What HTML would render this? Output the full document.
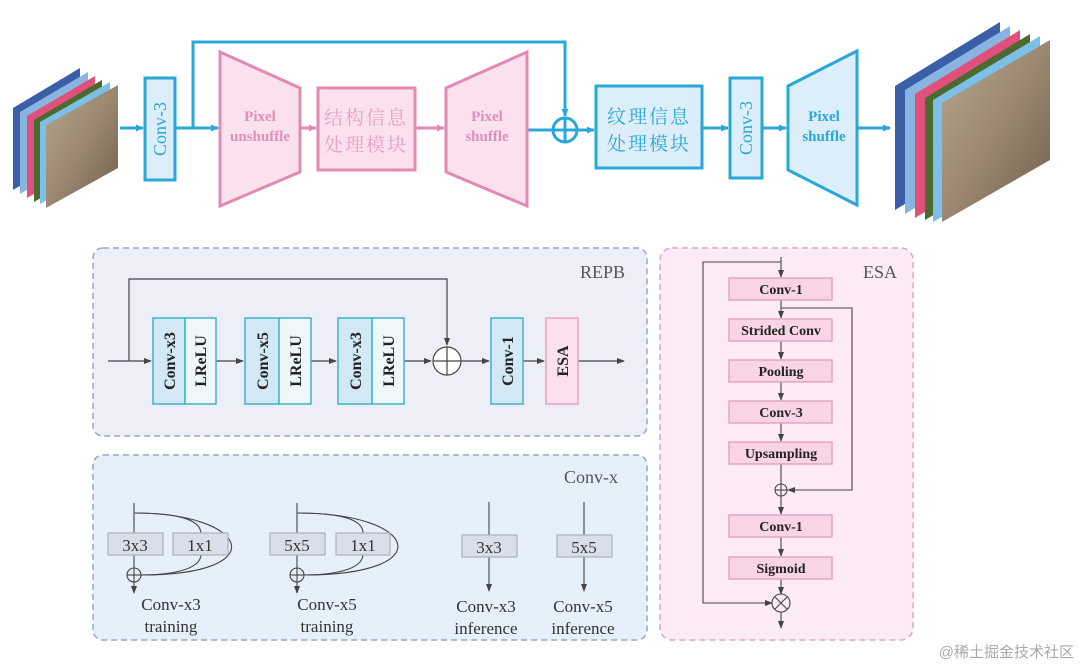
<!DOCTYPE html>
<html><head><meta charset="utf-8"><style>
html,body{margin:0;padding:0;background:#fff;}
svg{display:block;}
text{font-family:"Liberation Serif","Noto Serif CJK SC",serif;}
</style></head><body>
<svg width="1080" height="669" viewBox="0 0 1080 669" xmlns="http://www.w3.org/2000/svg">
<defs>
<marker id="ab" markerWidth="8" markerHeight="8" refX="7" refY="4" orient="auto" markerUnits="userSpaceOnUse"><path d="M0,0.5 L8,4 L0,7.5 z" fill="#29a8d8"/></marker>
<marker id="ap" markerWidth="8" markerHeight="8" refX="7" refY="4" orient="auto" markerUnits="userSpaceOnUse"><path d="M0,0.5 L8,4 L0,7.5 z" fill="#e08ab4"/></marker>
<marker id="ak" markerWidth="8" markerHeight="8" refX="7" refY="4" orient="auto" markerUnits="userSpaceOnUse"><path d="M0,1 L8,4 L0,7 z" fill="#444"/></marker>
<linearGradient id="ph" x1="0" y1="0" x2="1" y2="1"><stop offset="0" stop-color="#b8a690"/><stop offset="0.5" stop-color="#9c8870"/><stop offset="1" stop-color="#6e5e4c"/></linearGradient>
</defs>

<!-- input stack -->
<g>
<polygon points="13,108 80,68 80,150 13,190" fill="#3a5ea8"/>
<polygon points="20,112 88,72 88,154 20,194" fill="#8ab4e0"/>
<polygon points="27,116 95,76 95,158 27,198" fill="#e0507a"/>
<polygon points="34,120 102,80 102,162 34,202" fill="#4a6a30"/>
<polygon points="40,122 110,82 110,164 40,204" fill="#7cc0e8"/>
<polygon points="46,125 118,85 118,168 46,208" fill="url(#ph)"/>
</g>
<!-- output stack -->
<g>
<polygon points="895,86 1000,22 1000,146 895,210" fill="#3a5ea8"/>
<polygon points="905,90 1010,26 1010,150 905,214" fill="#8ab4e0"/>
<polygon points="915,94 1020,30 1020,154 915,218" fill="#e0507a"/>
<polygon points="925,98 1030,34 1030,158 925,220" fill="#4a6a30"/>
<polygon points="933,100 1040,36 1040,160 933,222" fill="#7cc0e8"/>
<polygon points="942,103 1050,40 1050,160 942,222" fill="url(#ph)"/>
</g>

<!-- top flow -->
<g stroke="#29a8d8" stroke-width="3" fill="none">
<line x1="120" y1="128" x2="143" y2="128" marker-end="url(#ab)"/>
<line x1="176" y1="128" x2="218" y2="128" marker-end="url(#ab)"/>
<polyline points="193,128 193,42 565,42 565,116" marker-end="url(#ab)"/>
<line x1="527" y1="130" x2="553" y2="130"/>
<line x1="577" y1="130" x2="594" y2="130" marker-end="url(#ab)"/>
<line x1="703" y1="128" x2="728" y2="128" marker-end="url(#ab)"/>
<line x1="763" y1="128" x2="786" y2="128" marker-end="url(#ab)"/>
<line x1="857" y1="128" x2="890" y2="128" marker-end="url(#ab)"/>
<circle cx="565" cy="130" r="12"/>
<line x1="553" y1="130" x2="577" y2="130"/>
<line x1="565" y1="118" x2="565" y2="142"/>
</g>
<rect x="145" y="78" width="30" height="102" fill="#dceefa" stroke="#29a8d8" stroke-width="3"/>
<text transform="translate(166,129) rotate(-90)" text-anchor="middle" font-size="18" fill="#29a8d8">Conv-3</text>
<rect x="730" y="78" width="32" height="100" fill="#dceefa" stroke="#29a8d8" stroke-width="3"/>
<text transform="translate(752,128) rotate(-90)" text-anchor="middle" font-size="18" fill="#29a8d8">Conv-3</text>

<g stroke="#e08ab4" stroke-width="3">
<polygon points="220,52 300,88 300,172 220,206" fill="#fbe1ee"/>
<rect x="318" y="88" width="97" height="82" fill="#fbe1ee"/>
<polygon points="446,88 527,52 527,206 446,172" fill="#fbe1ee"/>
<line x1="301" y1="128" x2="316" y2="128" marker-end="url(#ap)"/>
<line x1="416" y1="128" x2="444" y2="128" marker-end="url(#ap)"/>
</g>
<g fill="#e090b8" font-weight="bold" font-size="15" text-anchor="middle">
<text x="260" y="121">Pixel</text><text x="260" y="141">unshuffle</text>
<text x="487" y="121">Pixel</text><text x="487" y="141">shuffle</text>
</g>
<text x="366" y="124" text-anchor="middle" font-size="19" fill="#e8a0c4" letter-spacing="2">结构信息</text>
<text x="366" y="151" text-anchor="middle" font-size="19" fill="#e8a0c4" letter-spacing="2">处理模块</text>

<rect x="596" y="86" width="106" height="82" fill="#dceefa" stroke="#29a8d8" stroke-width="3"/>
<text x="649" y="123" text-anchor="middle" font-size="19" fill="#29a8d8" letter-spacing="2">纹理信息</text>
<text x="649" y="150" text-anchor="middle" font-size="19" fill="#29a8d8" letter-spacing="2">处理模块</text>
<polygon points="788,86 857,51 857,205 788,170" fill="#dceefa" stroke="#29a8d8" stroke-width="3"/>
<text x="824" y="121" text-anchor="middle" font-size="15" font-weight="bold" fill="#29a8d8">Pixel</text>
<text x="824" y="141" text-anchor="middle" font-size="15" font-weight="bold" fill="#29a8d8">shuffle</text>

<!-- panels -->
<rect x="93" y="248" width="554" height="188" rx="10" fill="#eeeef8" stroke="#9aa6c8" stroke-width="1.5" stroke-dasharray="6,4"/>
<rect x="93" y="455" width="554" height="185" rx="10" fill="#e5f0fb" stroke="#9aa6c8" stroke-width="1.5" stroke-dasharray="6,4"/>
<rect x="660" y="248" width="253" height="392" rx="12" fill="#fcebf5" stroke="#e4a4c4" stroke-width="1.5" stroke-dasharray="6,4"/>
<text x="625" y="278" text-anchor="end" font-size="18" fill="#555">REPB</text>
<text x="618" y="483" text-anchor="end" font-size="18" fill="#555">Conv-x</text>
<text x="897" y="278" text-anchor="end" font-size="18" fill="#555">ESA</text>

<!-- REPB -->
<g stroke="#444" stroke-width="1.2" fill="none">
<line x1="108" y1="361" x2="151" y2="361" marker-end="url(#ak)"/>
<polyline points="129,361 129,279 447,279 447,345" marker-end="url(#ak)"/>
<line x1="216" y1="361" x2="243" y2="361" marker-end="url(#ak)"/>
<line x1="311" y1="361" x2="336" y2="361" marker-end="url(#ak)"/>
<line x1="404" y1="361" x2="431" y2="361" marker-end="url(#ak)"/>
<line x1="461" y1="361" x2="489" y2="361" marker-end="url(#ak)"/>
<line x1="523" y1="361" x2="544" y2="361" marker-end="url(#ak)"/>
<line x1="578" y1="361" x2="624" y2="361" marker-end="url(#ak)"/>
<circle cx="447" cy="361" r="14" fill="#fff"/>
<line x1="433" y1="361" x2="461" y2="361"/><line x1="447" y1="347" x2="447" y2="375"/>
</g>
<g stroke="#3bb6c8" stroke-width="1.5">
<rect x="153" y="318" width="32" height="86" fill="#d2e8f4"/><rect x="185" y="318" width="31" height="86" fill="#eef8fb"/>
<rect x="245" y="318" width="34" height="86" fill="#d2e8f4"/><rect x="279" y="318" width="32" height="86" fill="#eef8fb"/>
<rect x="338" y="318" width="34" height="86" fill="#d2e8f4"/><rect x="372" y="318" width="32" height="86" fill="#eef8fb"/>
<rect x="491" y="318" width="32" height="86" fill="#d2e8f4"/>
</g>
<rect x="546" y="318" width="32" height="86" fill="#fbe1ee" stroke="#e8a0c4" stroke-width="1.5"/>
<g font-size="16" font-weight="bold" fill="#222" text-anchor="middle">
<text transform="translate(175,361) rotate(-90)">Conv-x3</text>
<text transform="translate(206,361) rotate(-90)">LReLU</text>
<text transform="translate(268,361) rotate(-90)">Conv-x5</text>
<text transform="translate(301,361) rotate(-90)">LReLU</text>
<text transform="translate(361,361) rotate(-90)">Conv-x3</text>
<text transform="translate(394,361) rotate(-90)">LReLU</text>
<text transform="translate(513,361) rotate(-90)">Conv-1</text>
<text transform="translate(568,361) rotate(-90)">ESA</text>
</g>

<!-- Conv-x -->
<g stroke="#444" stroke-width="1.1" fill="none">
<line x1="134" y1="503" x2="134" y2="593" marker-end="url(#ak)"/>
<path d="M134,513 C180,513 200,520 201,533"/>
<path d="M201,555 C200,570 170,575 141,575"/>
<path d="M134,513 C250,513 275,575 141,575"/>
<circle cx="134" cy="575" r="7"/><line x1="127" y1="575" x2="141" y2="575"/>
<line x1="297" y1="503" x2="297" y2="593" marker-end="url(#ak)"/>
<path d="M297,513 C343,513 363,520 363,533"/>
<path d="M363,555 C362,570 332,575 304,575"/>
<path d="M297,513 C420,513 440,575 304,575"/>
<circle cx="297" cy="575" r="7"/><line x1="290" y1="575" x2="304" y2="575"/>
<line x1="489" y1="502" x2="489" y2="591" marker-end="url(#ak)"/>
<line x1="584" y1="502" x2="584" y2="591" marker-end="url(#ak)"/>
</g>
<g fill="#d9dfe9" stroke="#aab0bd" stroke-width="1.2">
<rect x="108" y="533" width="55" height="22"/><rect x="173" y="533" width="55" height="22"/>
<rect x="270" y="533" width="55" height="22"/><rect x="336" y="533" width="54" height="22"/>
<rect x="462" y="535" width="55" height="22"/><rect x="557" y="535" width="55" height="22"/>
</g>
<g font-size="17" fill="#333" text-anchor="middle">
<text x="135" y="551">3x3</text><text x="200" y="551">1x1</text>
<text x="297" y="551">5x5</text><text x="363" y="551">1x1</text>
<text x="489" y="553">3x3</text><text x="584" y="553">5x5</text>
<text x="171" y="610">Conv-x3</text><text x="171" y="632">training</text>
<text x="327" y="610">Conv-x5</text><text x="327" y="632">training</text>
<text x="486" y="612">Conv-x3</text><text x="486" y="634">inference</text>
<text x="583" y="612">Conv-x5</text><text x="583" y="634">inference</text>
</g>

<!-- ESA -->
<g stroke="#444" stroke-width="1.1" fill="none">
<line x1="781" y1="257" x2="781" y2="277" marker-end="url(#ak)"/>
<polyline points="781,262 703,262 703,603 772,603" marker-end="url(#ak)"/>
<line x1="781" y1="300" x2="781" y2="318" marker-end="url(#ak)"/>
<polyline points="781,308 852,308 852,490 788,490" marker-end="url(#ak)"/>
<line x1="781" y1="341" x2="781" y2="359" marker-end="url(#ak)"/>
<line x1="781" y1="382" x2="781" y2="400" marker-end="url(#ak)"/>
<line x1="781" y1="423" x2="781" y2="441" marker-end="url(#ak)"/>
<line x1="781" y1="464" x2="781" y2="484"/>
<circle cx="781" cy="490" r="6"/><line x1="775" y1="490" x2="787" y2="490"/><line x1="781" y1="484" x2="781" y2="496"/>
<line x1="781" y1="496" x2="781" y2="514" marker-end="url(#ak)"/>
<line x1="781" y1="537" x2="781" y2="556" marker-end="url(#ak)"/>
<line x1="781" y1="579" x2="781" y2="594" marker-end="url(#ak)"/>
<circle cx="781" cy="603" r="9"/><line x1="775" y1="597" x2="787" y2="609"/><line x1="787" y1="597" x2="775" y2="609"/>
<line x1="781" y1="612" x2="781" y2="628" marker-end="url(#ak)"/>
</g>
<g fill="#f8d4e6" stroke="#e4a4c4" stroke-width="1.5">
<rect x="729" y="278" width="103" height="22"/>
<rect x="729" y="319" width="103" height="22"/>
<rect x="729" y="360" width="103" height="22"/>
<rect x="729" y="401" width="103" height="22"/>
<rect x="729" y="442" width="103" height="22"/>
<rect x="729" y="515" width="103" height="22"/>
<rect x="729" y="557" width="103" height="22"/>
</g>
<g font-size="14" font-weight="bold" fill="#222" text-anchor="middle">
<text x="781" y="294">Conv-1</text>
<text x="781" y="335">Strided Conv</text>
<text x="781" y="376">Pooling</text>
<text x="781" y="417">Conv-3</text>
<text x="781" y="458">Upsampling</text>
<text x="781" y="531">Conv-1</text>
<text x="781" y="573">Sigmoid</text>
</g>

<text x="1074" y="657" text-anchor="end" font-size="15" fill="#aaa" style="font-family:'Liberation Sans','Noto Sans CJK SC',sans-serif">@稀土掘金技术社区</text>
</svg>
</body></html>
